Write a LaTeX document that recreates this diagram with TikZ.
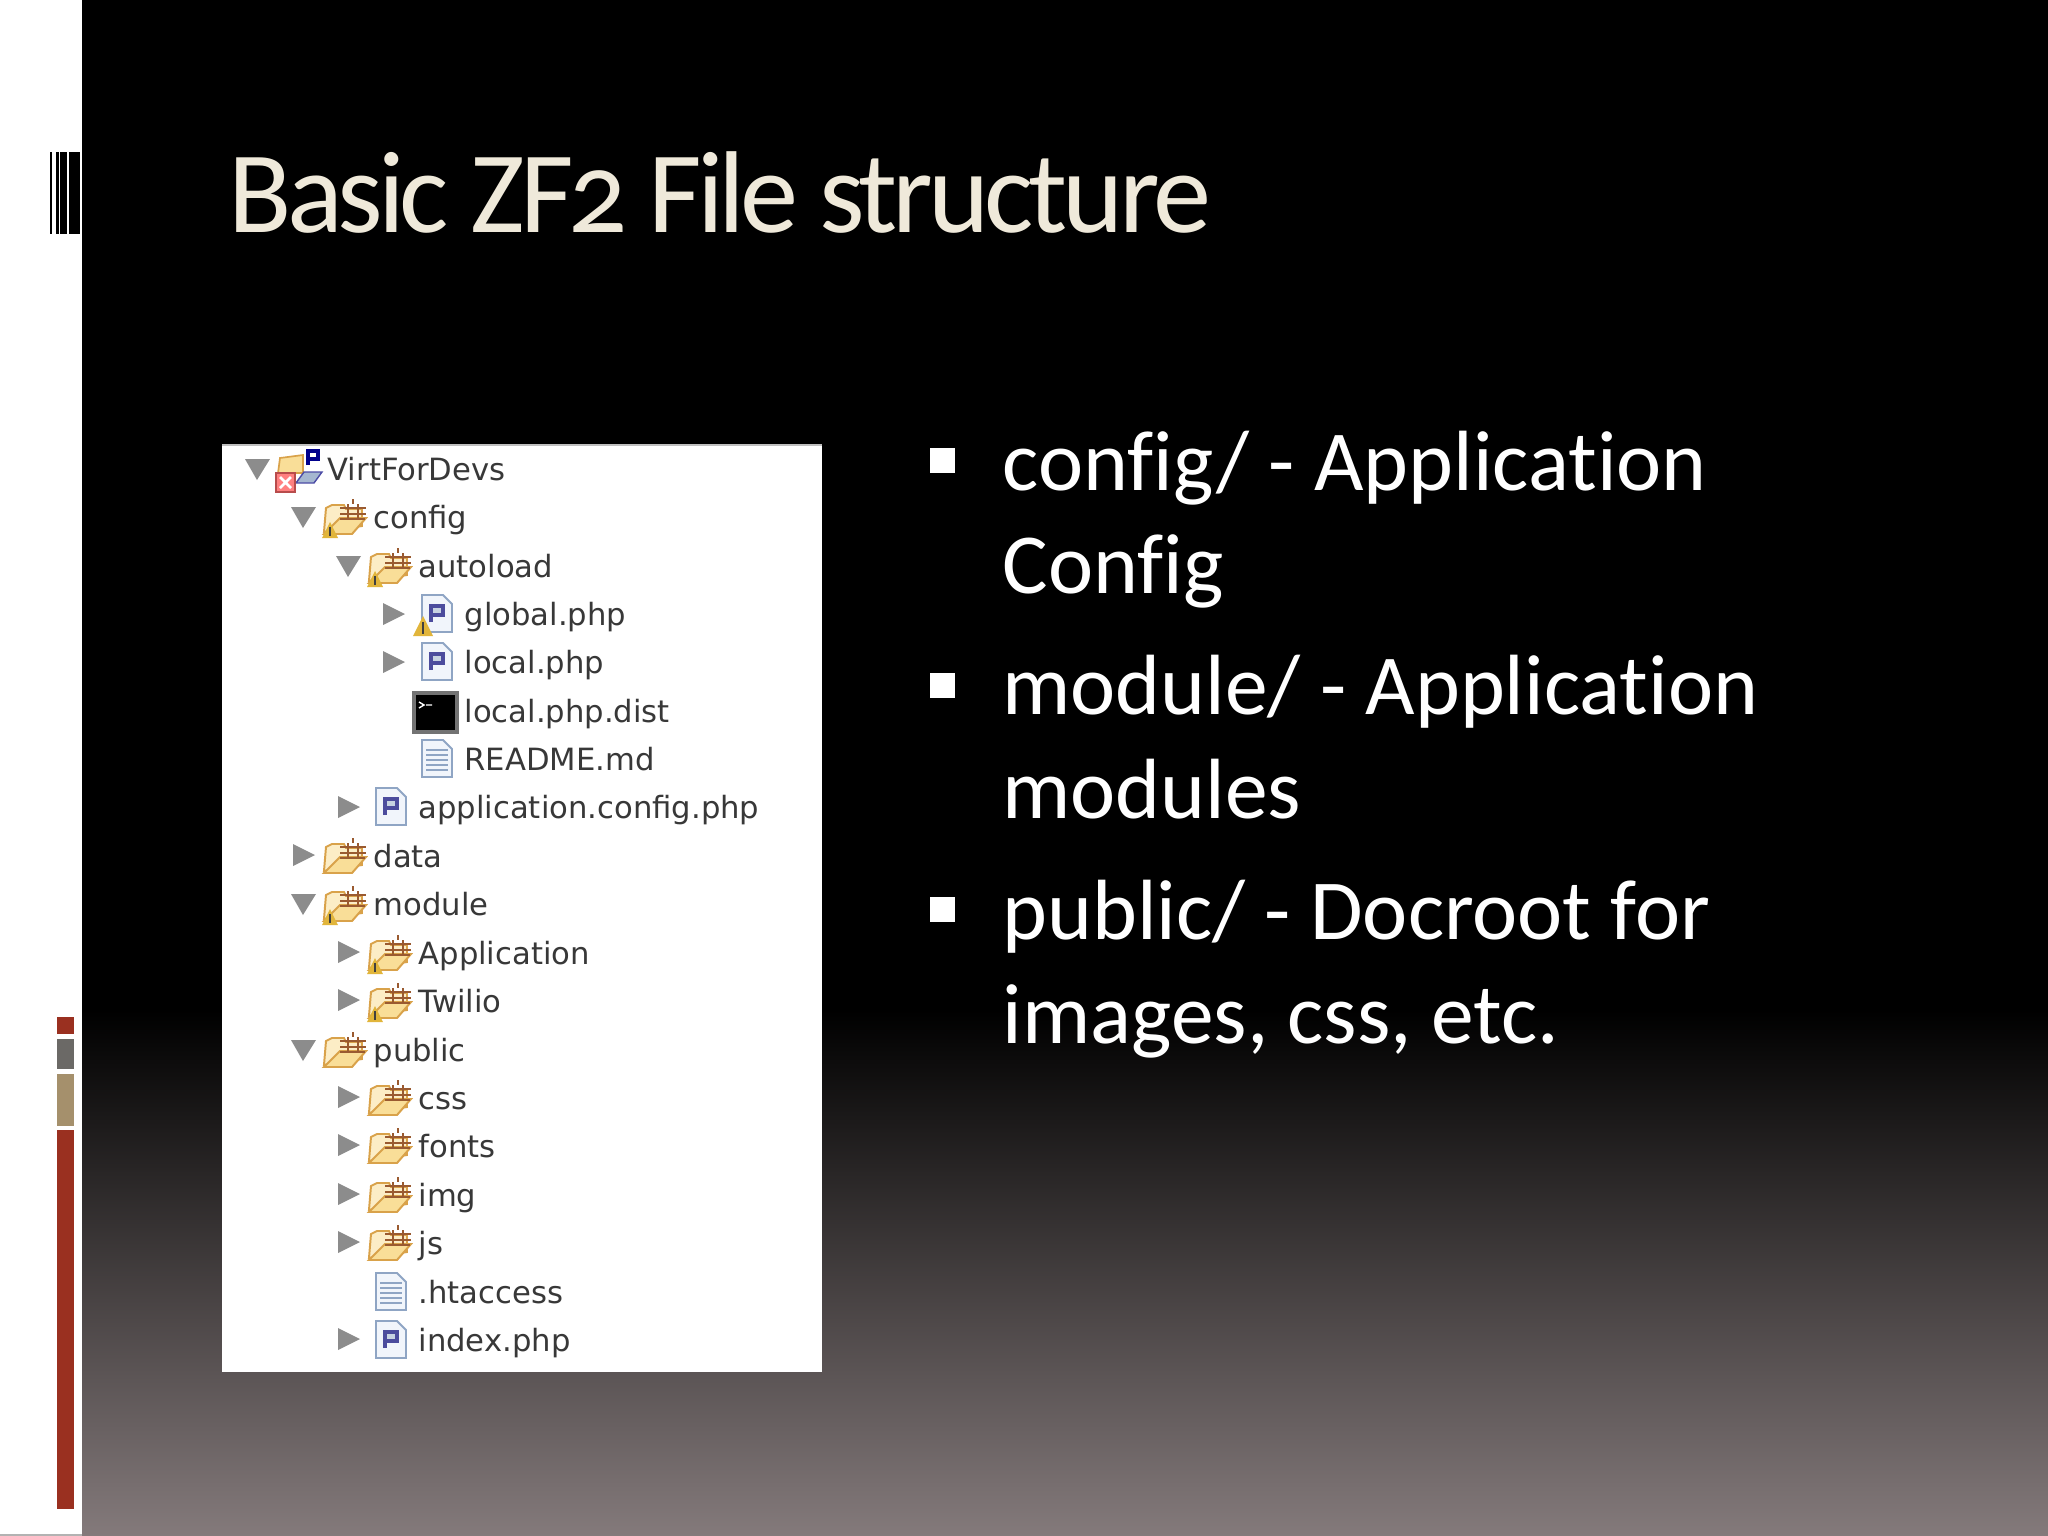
\documentclass[tikz,border=0pt]{standalone}
\usepackage{fontspec}
\setmainfont[Ligatures=NoCommon]{Carlito}
\newfontfamily\treefont{DejaVu Sans}
\newfontfamily\titlefont[Numbers=OldStyle,LetterSpace=-4.3,Ligatures=NoCommon]{Carlito}
\usepackage{tikz}
\definecolor{slidered}{HTML}{9A3020}
\definecolor{slidegrey}{HTML}{6B6966}
\definecolor{slidetan}{HTML}{A5906C}
\definecolor{slidecream}{HTML}{EFE9DA}
\definecolor{slidefade}{HTML}{847A7B}
\definecolor{foldery}{HTML}{F9DE98}
\definecolor{folderl}{HTML}{D9A24A}
\definecolor{crate}{HTML}{9A5A30}
\definecolor{pageblue}{HTML}{8FA5C4}
\definecolor{pagefill}{HTML}{F1F5FB}
\tikzset{
    rowlabel/.style={anchor=base west, inner sep=0pt, text=black!78, font=\treefont\fontsize{10.9}{13}\selectfont},
    bodytext/.style={anchor=base west, inner sep=0pt, text=white, font=\fontsize{30.4}{34}\selectfont},
    twisty/.style={fill=black!45, draw=none}
}
\newcommand{\twistd}[2]{\fill[twisty] ( #1 - 12 , #2 - 9 ) -- ( #1 + 13 , #2 - 9 ) -- ( #1 , #2 + 12 ) -- cycle;}
\newcommand{\twistr}[2]{\fill[twisty] ( #1 , #2 - 11 ) -- ( #1 + 22 , #2 ) -- ( #1 , #2 + 11 ) -- cycle;}
\newcommand{\warnmark}[3]{\fill[folderl!80!yellow] ( #1 , #2 - #3 ) -- ( #1 + #3 , #2 + #3 ) -- ( #1 - #3 , #2 + #3 ) -- cycle; \draw[black!75, line width=0.6pt] ( #1 , #2 - #3 * 0.4 ) -- ( #1 , #2 + #3 * 0.8 );}
\newcommand{\foldermark}[2]{
    \filldraw[fill=foldery!55, draw=folderl, line width=0.7pt] ( #1 - 49 , #2 + 16 ) -- ( #1 - 47 , #2 - 8 ) -- ( #1 - 41 , #2 - 11 ) -- ( #1 - 29 , #2 - 11 ) -- ( #1 - 27 , #2 - 7 ) -- ( #1 - 11 , #2 - 7 ) -- ( #1 - 11 , #2 + 10 ) -- cycle;
    \filldraw[fill=foldery, draw=folderl, line width=0.7pt] ( #1 - 49 , #2 + 18 ) -- ( #1 - 33 , #2 + 2 ) -- ( #1 - 7 , #2 + 2 ) -- ( #1 - 21 , #2 + 18 ) -- cycle;
    \draw[crate, line width=0.9pt] ( #1 - 33 , #2 - 8 ) -- ( #1 - 7 , #2 - 8 ) ( #1 - 33 , #2 - 2 ) -- ( #1 - 7 , #2 - 2 ) ( #1 - 33 , #2 + 3 ) -- ( #1 - 8 , #2 + 3 ) ( #1 - 25 , #2 - 12 ) -- ( #1 - 25 , #2 + 3 ) ( #1 - 15 , #2 - 12 ) -- ( #1 - 15 , #2 + 3 ) ( #1 - 20 , #2 - 17 ) -- ( #1 - 20 , #2 - 12 );
}
\newcommand{\pagemark}[2]{
    \filldraw[fill=pagefill, draw=pageblue, line width=0.7pt] ( #1 - 42 , #2 - 18 ) -- ( #1 - 21 , #2 - 18 ) -- ( #1 - 12 , #2 - 9 ) -- ( #1 - 12 , #2 + 19 ) -- ( #1 - 42 , #2 + 19 ) -- cycle;
    \filldraw[fill=pageblue!50, draw=blue!45!black!70, line width=1.2pt] ( #1 - 33 , #2 + 9 ) -- ( #1 - 33 , #2 - 7 ) -- ( #1 - 21 , #2 - 7 ) -- ( #1 - 21 , #2 + 2 ) -- ( #1 - 33 , #2 + 2 );
}
\newcommand{\textmark}[2]{
    \filldraw[fill=pagefill, draw=pageblue, line width=0.7pt] ( #1 - 42 , #2 - 18 ) -- ( #1 - 21 , #2 - 18 ) -- ( #1 - 12 , #2 - 9 ) -- ( #1 - 12 , #2 + 19 ) -- ( #1 - 42 , #2 + 19 ) -- cycle;
    \foreach \l in {-8,-3,2,7,12} { \draw[pageblue, line width=0.5pt] ( #1 - 38 , #2 + \l ) -- ( #1 - 16 , #2 + \l ); }
}
\newcommand{\treerow}[5]{\node[rowlabel] (#1) at ( #2 , #3 + 12 ) {#4}; #5}
\begin{document}
\begin{tikzpicture}[x=0.0125cm, y=-0.0125cm]
    \useasboundingbox (0,0) rectangle (2048,1536);
    % backdrop
    \fill[white] (0,0) rectangle (82,1536);
    \fill[black] (82,0) rectangle (2048,1012);
    \shade[top color=black, bottom color=slidefade] (82,1010) rectangle (2048,1536);
    \fill[black!30] (0,1534) rectangle (82,1536);
    % barcode
    \fill[black] (49.5,152) rectangle (52,234);
    \fill[black] (56,152) rectangle (58.7,234);
    \fill[black] (60.3,152) rectangle (67,234);
    \fill[black] (69,152) rectangle (79.7,234);
    % side bars
    \fill[slidered] (57.3,1017) rectangle (74,1034);
    \fill[slidegrey] (57.3,1038.5) rectangle (74,1069);
    \fill[slidetan] (57.3,1074) rectangle (74,1126);
    \fill[slidered] (57.3,1130) rectangle (74,1509);
    % title
    \node[anchor=base west, inner sep=0pt, text=slidecream, font=\titlefont\fontsize{41.4}{48}\selectfont] (title) at (228,232) {Basic ZF2 File structure};
    % body
    \fill[white] (930,448) rectangle (955,473);
    \fill[white] (930,673) rectangle (955,698);
    \fill[white] (930,897) rectangle (955,922);
    \node[bodytext] (config1) at (1002,490.5) {config/ - Application};
    \node[bodytext] (config2) at (1002,593.5) {Config};
    \node[bodytext] (module1) at (1002,714.5) {module/ - Application};
    \node[bodytext] (module2) at (1002,818) {modules};
    \node[bodytext] (public1) at (1002,939.5) {public/ - Docroot for};
    \node[bodytext] (public2) at (1002,1043.5) {images, css, etc.};
    % file tree
    \fill[white] (222,444) rectangle (822,1372);
    \draw[black!25, line width=1pt] (222,445) -- (822,445);
    % row 1
    \treerow{root}{327}{468}{VirtForDevs}{\twistd{257}{468}
        \filldraw[fill=foldery, draw=folderl, line width=0.6pt] (278,473) -- (280,458) -- (303,455) -- (303,473) -- cycle;
        \filldraw[fill=pageblue!80, draw=blue!50!black!70, line width=0.5pt] (296,483) -- (304,472) -- (322,472) -- (314,483) -- cycle;
        \filldraw[fill=red!50, draw=red!60!black!70, line width=0.5pt] (276,473) rectangle (295,492);
        \draw[white, line width=1pt] (280,477) -- (291,488) (291,477) -- (280,488);
        \draw[blue!55!black, line width=1.1pt] (308,465) -- (308,451) -- (318,451) -- (318,459) -- (308,459);}
    % row 2
    \treerow{config}{373}{516}{config}{\twistd{303}{516}\foldermark{373}{516}\warnmark{330}{530}{8}}
    % row 3
    \treerow{autoload}{418}{565}{autoload}{\twistd{348}{565}\foldermark{418}{565}\warnmark{375}{579}{8}}
    % row 4
    \treerow{global}{464}{613}{global.php}{\twistr{383}{614}\pagemark{464}{613}\warnmark{423}{626}{10}}
    % row 5
    \treerow{local}{464}{661}{local.php}{\twistr{383}{662}\pagemark{464}{661}}
    % row 6
    \treerow{localdist}{464}{710}{local.php.dist}{
        \filldraw[fill=black, draw=black!55, line width=1.5pt] (414,693) rectangle (457,732);
        \draw[white, line width=0.5pt] (419,702) -- (424,705) -- (419,708) (426,705) -- (432,705);}
    % row 7
    \treerow{readme}{464}{758}{README.md}{\textmark{464}{758}}
    % row 8
    \treerow{appconfig}{418}{806}{application.config.php}{\twistr{338}{807}\pagemark{418}{806}}
    % row 9
    \treerow{data}{373}{855}{data}{\twistr{293}{855}\foldermark{373}{855}}
    % row 10
    \treerow{module}{373}{903}{module}{\twistd{303}{903}\foldermark{373}{903}\warnmark{330}{917}{8}}
    % row 11
    \treerow{application}{418}{952}{Application}{\twistr{338}{952}\foldermark{418}{952}\warnmark{375}{966}{8}}
    % row 12
    \treerow{twilio}{418}{1000}{Twilio}{\twistr{338}{1000}\foldermark{418}{1000}\warnmark{375}{1014}{8}}
    % row 13
    \treerow{public}{373}{1049}{public}{\twistd{303}{1049}\foldermark{373}{1049}}
    % row 14
    \treerow{css}{418}{1097}{css}{\twistr{338}{1097}\foldermark{418}{1097}}
    % row 15
    \treerow{fonts}{418}{1145}{fonts}{\twistr{338}{1145}\foldermark{418}{1145}}
    % row 16
    \treerow{img}{418}{1194}{img}{\twistr{338}{1194}\foldermark{418}{1194}}
    % row 17
    \treerow{js}{418}{1242}{js}{\twistr{338}{1242}\foldermark{418}{1242}}
    % row 18
    \treerow{htaccess}{418}{1291}{.htaccess}{\textmark{418}{1291}}
    % row 19
    \treerow{index}{418}{1339}{index.php}{\twistr{338}{1339}\pagemark{418}{1339}}
\end{tikzpicture}
\end{document}
